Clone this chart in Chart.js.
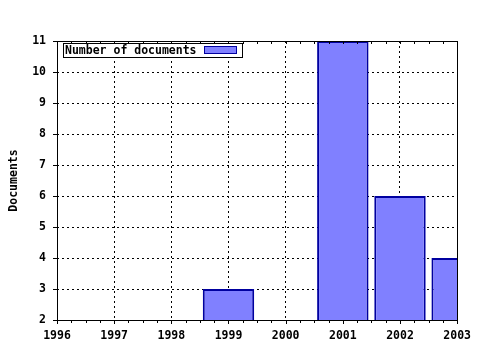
<!DOCTYPE html>
<html>
<head>
<meta charset="utf-8">
<script src="https://cdn.jsdelivr.net/npm/chart.js@4"></script>
<style>
	html, body { margin: 0; padding: 0; background: #fff; }
	canvas { display: block; }
</style>
</head>
<body>
<canvas id="grafico" width="480" height="350"></canvas>
<script>
// Dati
const anni = [1999, 2001, 2002, 2003];
const documenti = [3, 11, 6, 4];
const serieLabel = "Number of documents";
const asseY = "Documents";
const xMin = 1996, xMax = 2003;
const yMin = 2, yMax = 11;

const FONT = { family: "'DejaVu Sans Mono', monospace", size: 11.5, weight: "bold" };
const RIEMPIMENTO = "#8080ff";
const BORDO = "#0000a0";

// Cornice, tacche e legenda disegnate sopra il grafico
const cornice = {
	id: "cornice",
	afterDraw(chart) {
		let { ctx, chartArea: a, scales: { x, y } } = chart;
		ctx.save();
		ctx.strokeStyle = "#000";
		ctx.lineWidth = 1;
		ctx.strokeRect(Math.round(a.left) + 0.5, Math.round(a.top) + 0.5,
			Math.round(a.right - a.left), Math.round(a.bottom - a.top));

		ctx.beginPath();
		// Tacche asse x (maggiori e minori ogni 0.25)
		for (let v = xMin; v <= xMax + 1e-9; v += 0.25) {
			let px = Math.round(x.getPixelForValue(v)) + 0.5;
			let major = Math.abs(v - Math.round(v)) < 1e-9;
			ctx.moveTo(px, a.bottom);
			ctx.lineTo(px, a.bottom + (major ? 4 : 3));
			ctx.moveTo(px, a.top);
			ctx.lineTo(px, a.top + 3);
		}
		// Tacche asse y
		for (let v = yMin; v <= yMax; v++) {
			let py = Math.round(y.getPixelForValue(v)) + 0.5;
			ctx.moveTo(a.left - 4, py);
			ctx.lineTo(a.left, py);
		}
		ctx.stroke();

		// Legenda
		let lx = Math.round(a.left) + 6.5, ly = Math.round(a.top) + 2.5;
		ctx.fillStyle = "#fff";
		ctx.fillRect(lx, ly, 179, 14);
		ctx.strokeRect(lx, ly, 179, 14);
		ctx.font = `${FONT.weight} ${FONT.size}px ${FONT.family}`;
		ctx.fillStyle = "#000";
		ctx.textBaseline = "middle";
		ctx.fillText(serieLabel, lx + 1.5, ly + 7.5);
		ctx.fillStyle = RIEMPIMENTO;
		ctx.fillRect(lx + 141, ly + 3, 32, 7);
		ctx.strokeStyle = BORDO;
		ctx.strokeRect(lx + 141, ly + 3, 32, 7);
		ctx.restore();
	}
};

new Chart(document.getElementById("grafico"), {
	type: "bar",
	data: {
		datasets: [{
			label: serieLabel,
			data: anni.map((a, i) => ({ x: a, y: documenti[i] })),
			backgroundColor: RIEMPIMENTO,
			borderColor: BORDO,
			borderWidth: 2,
			borderSkipped: "start",
			barPercentage: 0.9,
			categoryPercentage: 1,
		}]
	},
	options: {
		responsive: false,
		animation: false,
		layout: { autoPadding: false, padding: { top: 41, right: 21, left: 0, bottom: 0 } },
		plugins: {
			legend: { display: false },
			tooltip: { enabled: false },
		},
		scales: {
			x: {
				type: "linear",
				min: xMin,
				max: xMax,
				offset: false,
				ticks: {
					stepSize: 1,
					autoSkip: false,
					maxRotation: 0,
					padding: 9,
					color: "#000",
					font: FONT,
					callback: v => String(v),
				},
				grid: { offset: false, color: "#000", lineWidth: 1, drawTicks: false },
				border: { display: false, dash: [2, 3] },
				afterFit: s => { s.height = 30; },
			},
			y: {
				min: yMin,
				max: yMax,
				ticks: {
					stepSize: 1,
					padding: 11,
					color: "#000",
					font: FONT,
				},
				grid: { color: "#000", lineWidth: 1, drawTicks: false },
				border: { display: false, dash: [2, 3] },
				title: {
					display: true,
					text: asseY,
					color: "#000",
					font: FONT,
					padding: { top: 7, bottom: 0 },
				},
				afterFit: s => { s.width = 57; },
			}
		}
	},
	plugins: [cornice],
});
</script>
</body>
</html>
